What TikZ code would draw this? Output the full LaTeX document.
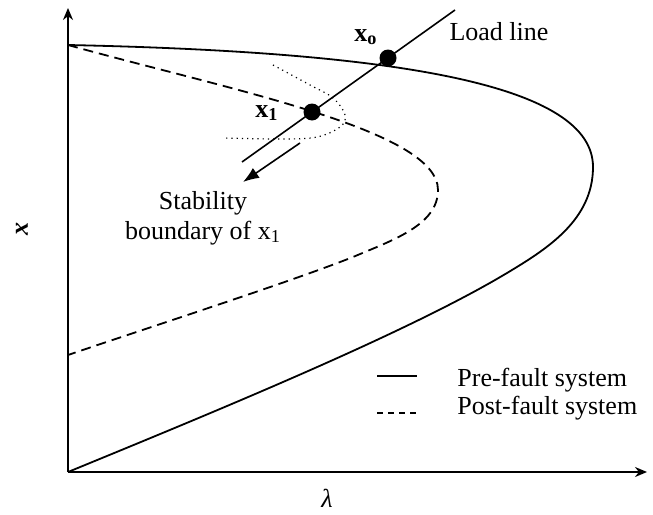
\documentclass[tikz,border=0pt]{standalone}
\usepackage{fontspec}
\setmainfont{Liberation Serif}
\usetikzlibrary{arrows.meta}
\tikzset{
  axis/.style={line width=1pt, -{Stealth[length=6pt,width=5pt]}},
  prefault/.style={line width=0.9pt},
  postfault/.style={line width=0.9pt, dash pattern=on 5pt off 3pt},
  opdot/.style={circle, fill, inner sep=0pt, minimum size=8.5pt},
  lbl/.style={inner sep=1pt, font=\fontsize{13}{15}\selectfont},
}
\begin{document}
\begin{tikzpicture}[x=0.5pt, y=-0.5pt]
    \useasboundingbox (0,0) rectangle (653,514);
    % axes
    \coordinate (O) at (68,472);
    \coordinate (ytip) at (68,8);
    \coordinate (xtip) at (647,472);
    \draw[axis] (O) -- (ytip);
    \draw[axis] (O) -- (xtip);
    \node[lbl, rotate=90] (ylab) at (22,229) {\textbf{\textit{x}}};
    \node[lbl] (xlab) at (327,498) {\textit{λ}};
    % pre-fault curve
    \coordinate (top) at (68,45);
    \coordinate (nosepre) at (593,167);
    \coordinate (midpre) at (507,273);
    \draw[prefault] (top) .. controls (400,52) and (593,85) .. (nosepre)
        .. controls (593,220) and (547,249) .. (midpre)
        .. controls (407,333) and (214,412) .. (O);
    % post-fault curve
    \coordinate (nosepost) at (438,190);
    \coordinate (midpost) at (353,257);
    \coordinate (endpost) at (68,355);
    \draw[postfault] (top) .. controls (230,90) and (438,130) .. (nosepost)
        .. controls (438,225) and (393,240) .. (midpost)
        .. controls (290,282) and (150,327) .. (endpost);
    % stability boundary of x1
    \draw[line width=0.6pt, dotted] plot[smooth, tension=0.6] coordinates {
        (273,65) (310,85) (333,98) (345,115) (340,127) (317,137) (283,139) (223,138)};
    % load line and operating points
    \coordinate (llstart) at (242,162);
    \coordinate (llend) at (455,10);
    \draw[line width=0.8pt] (llstart) -- (llend);
    \node[opdot] (xo) at (388,58) {};
    \node[opdot] (xone) at (312,112) {};
    \node[lbl] (xolab) at (366,37) {\textbf{x\textsubscript{o}}};
    \node[lbl] (xonelab) at (267,113) {\textbf{x\textsubscript{1}}};
    \node[lbl] (load) at (499,32) {Load line};
    \coordinate (arrstart) at (300,143);
    \coordinate (arrend) at (243,182);
    \draw[line width=0.8pt, -{Latex[length=8pt,width=6pt]}] (arrstart) -- (arrend);
    \node[lbl, align=center] (stab) at (203,218) {Stability\\boundary of x\textsubscript{1}};
    % legend
    \coordinate (lga) at (377,376);
    \coordinate (lgb) at (417,376);
    \coordinate (lgc) at (377,413);
    \coordinate (lgd) at (417,413);
    \draw[prefault] (lga) -- (lgb);
    \draw[line width=0.6pt, dash pattern=on 3pt off 2.5pt] (lgc) -- (lgd);
    \node[lbl, anchor=west] (pre) at (455,380) {Pre-fault system};
    \node[lbl, anchor=west] (post) at (455,408) {Post-fault system};
\end{tikzpicture}
\end{document}
